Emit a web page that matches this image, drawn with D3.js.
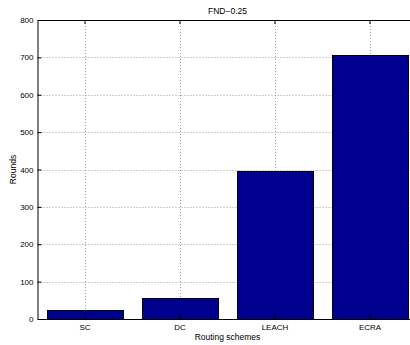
<!DOCTYPE html>
<html>
<head>
<meta charset="utf-8">
<script src="https://cdn.jsdelivr.net/npm/d3@7"></script>
<style>
  body { margin: 0; background: #fff; }
  svg { display: block; font-family: "Liberation Sans", Helvetica, Arial, sans-serif; }
  .grid line { stroke: #a0a0a0; stroke-dasharray: 1,2; }
</style>
</head>
<body>
<script>
// chart data
var schemes = ["SC", "DC", "LEACH", "ECRA"];
var rounds = [23, 55, 396, 707];
var yTicks = [0, 100, 200, 300, 400, 500, 600, 700, 800];

var w = 410, h = 345;
// plot box (it runs past the window on the right, like the original)
var boxL = 37.5, boxR = 417.5, boxT = 20, boxB = 319;

var svg = d3.select("body").append("svg")
            .attr("width", w)
            .attr("height", h);

// scales
var xScale = d3.scaleBand()
               .domain(schemes)
               .range([boxL, boxR])
               .paddingInner(0.2)
               .paddingOuter(0.1);

var yScale = d3.scaleLinear()
               .domain([0, 800])
               .range([boxB, boxT]);

// dotted grid
var grid = svg.append("g").attr("class", "grid");
grid.selectAll(".gy")
    .data(yTicks.slice(1, -1))
    .enter().append("line")
    .attr("x1", boxL).attr("x2", boxR)
    .attr("y1", function(d){ return Math.round(yScale(d)) + 0.5; })
    .attr("y2", function(d){ return Math.round(yScale(d)) + 0.5; });
grid.selectAll(".gx")
    .data(schemes)
    .enter().append("line")
    .attr("x1", function(d){ return Math.round(xScale(d) + xScale.bandwidth()/2) + 0.5; })
    .attr("x2", function(d){ return Math.round(xScale(d) + xScale.bandwidth()/2) + 0.5; })
    .attr("y1", boxT).attr("y2", boxB);

// bars
svg.selectAll("rect.bar")
   .data(rounds)
   .enter().append("rect")
   .attr("class", "bar")
   .attr("x", function(d, i){ return Math.round(xScale(schemes[i])) + 0.5; })
   .attr("y", function(d){ return Math.round(yScale(d)) + 0.5; })
   .attr("width", Math.round(xScale.bandwidth()))
   .attr("height", function(d){ return Math.round(boxB - yScale(d)); })
   .attr("fill", "#00008f")
   .attr("stroke", "#000")
   .attr("stroke-width", 1);

// axes
var yAxis = d3.axisLeft(yScale)
              .tickValues(yTicks)
              .tickSizeInner(-4)
              .tickSizeOuter(0)
              .tickPadding(4);
svg.append("g")
   .attr("transform", "translate(" + boxL + ",0)")
   .call(yAxis);

var xAxis = d3.axisBottom(xScale)
              .tickSizeInner(-4)
              .tickSizeOuter(0)
              .tickPadding(5);
svg.append("g")
   .attr("transform", "translate(0," + boxB + ")")
   .call(xAxis);

// top edge of the box, ticks pointing down
var topAxis = d3.axisTop(xScale)
                .tickSizeInner(-4)
                .tickSizeOuter(0)
                .tickFormat("");
svg.append("g")
   .attr("transform", "translate(0," + boxT + ")")
   .call(topAxis);

svg.selectAll(".tick text")
   .attr("font-size", 8)
   .attr("font-family", "Liberation Sans, Helvetica, Arial, sans-serif")
   .attr("fill", "#000");
svg.selectAll(".domain, .tick line").attr("stroke", "#000");

// labels
svg.append("text")
   .attr("x", (boxL + boxR) / 2)
   .attr("y", 14)
   .attr("text-anchor", "middle")
   .attr("font-size", 8.5)
   .text("FND\u22120.25");

svg.append("text")
   .attr("x", (boxL + boxR) / 2)
   .attr("y", 340)
   .attr("text-anchor", "middle")
   .attr("font-size", 8.5)
   .text("Routing schemes");

svg.append("text")
   .attr("transform", "translate(16," + (boxT + boxB) / 2 + ") rotate(-90)")
   .attr("text-anchor", "middle")
   .attr("font-size", 8.5)
   .text("Rounds");
</script>
</body>
</html>
